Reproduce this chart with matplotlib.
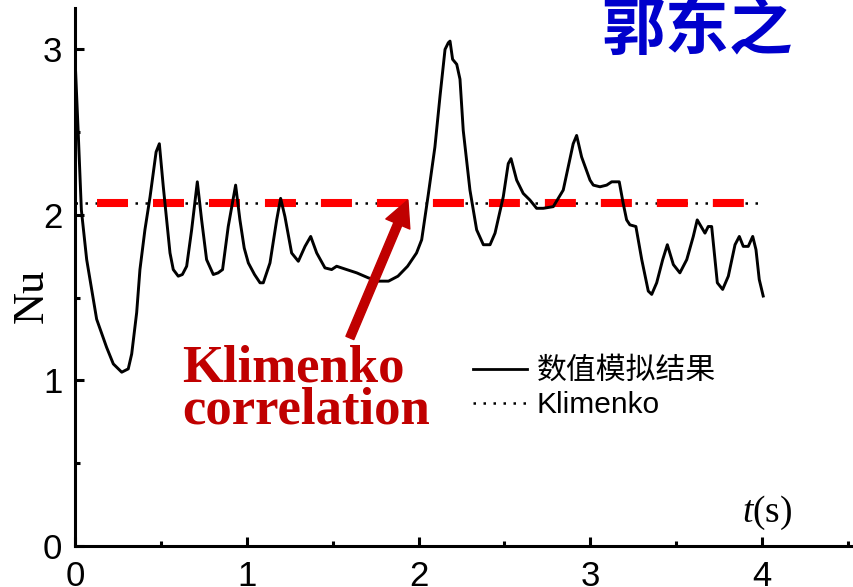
import matplotlib
matplotlib.use("Agg")
import matplotlib.pyplot as plt
from matplotlib.ticker import MultipleLocator
from matplotlib.lines import Line2D

plt.rcParams['mathtext.fontset'] = 'custom'
plt.rcParams['mathtext.rm'] = 'Liberation Serif'
plt.rcParams['mathtext.it'] = 'Liberation Serif:italic'

# ---- data ----
t = [0.0, 0.019, 0.037, 0.068, 0.126, 0.184, 0.223, 0.272, 0.31, 0.33, 0.359, 0.378,
     0.407, 0.437, 0.472, 0.491, 0.514, 0.553, 0.572, 0.601, 0.625, 0.65, 0.679, 0.712,
     0.737, 0.766, 0.805, 0.833, 0.859, 0.892, 0.935, 0.96, 0.985, 1.009, 1.045, 1.077,
     1.096, 1.135, 1.174, 1.197, 1.222, 1.261, 1.30, 1.339, 1.372, 1.407, 1.455, 1.494,
     1.523, 1.581, 1.64, 1.707, 1.765, 1.825, 1.88, 1.936, 1.988, 2.018, 2.056, 2.095,
     2.125, 2.154, 2.173, 2.183, 2.198, 2.222, 2.241, 2.26, 2.299, 2.338, 2.377, 2.416,
     2.445, 2.493, 2.522, 2.538, 2.571, 2.609, 2.648, 2.687, 2.726, 2.784, 2.842, 2.90,
     2.92, 2.949, 2.998, 3.017, 3.056, 3.095, 3.124, 3.143, 3.168, 3.191, 3.211, 3.23,
     3.265, 3.299, 3.337, 3.357, 3.386, 3.421, 3.448, 3.483, 3.521, 3.561, 3.599, 3.622,
     3.667, 3.686, 3.706, 3.739, 3.77, 3.803, 3.842, 3.867, 3.89, 3.919, 3.945, 3.964,
     3.983, 4.006]
nu = [2.95, 2.49, 2.03, 1.73, 1.37, 1.20, 1.10, 1.05, 1.07, 1.16, 1.41, 1.67,
      1.91, 2.11, 2.38, 2.43, 2.17, 1.77, 1.67, 1.63, 1.64, 1.69, 1.91, 2.20,
      1.97, 1.73, 1.64, 1.65, 1.67, 1.93, 2.18, 1.97, 1.80, 1.71, 1.64, 1.59,
      1.59, 1.71, 1.97, 2.10, 1.99, 1.77, 1.72, 1.81, 1.87, 1.77, 1.68, 1.67,
      1.69, 1.67, 1.65, 1.62, 1.60, 1.60, 1.63, 1.69, 1.77, 1.85, 2.12, 2.41,
      2.72, 3.00, 3.04, 3.05, 2.94, 2.91, 2.82, 2.51, 2.15, 1.91, 1.82, 1.82,
      1.89, 2.11, 2.31, 2.34, 2.21, 2.13, 2.09, 2.04, 2.04, 2.05, 2.15, 2.43,
      2.48, 2.35, 2.21, 2.18, 2.17, 2.18, 2.20, 2.20, 2.20, 2.07, 1.97, 1.94,
      1.93, 1.73, 1.54, 1.52, 1.59, 1.73, 1.82, 1.70, 1.65, 1.73, 1.87, 1.97,
      1.89, 1.93, 1.93, 1.59, 1.55, 1.63, 1.82, 1.87, 1.81, 1.81, 1.87, 1.79,
      1.61, 1.51]
klimenko_nu = 2.07
klimenko_t = [0.0, 3.975]
red_dash_t = [0.13, 3.90]
xticks = [0, 1, 2, 3, 4]
yticks = [0, 1, 2, 3]
arrow_tail = (1.60, 1.257)
arrow_head = (1.938, 2.09)

fig = plt.figure(figsize=(8.54, 5.87), dpi=100)
ax = fig.add_axes([75/854, 41/587, (851.5-75)/854, (546-8)/587])
ax.set_xlim(0, 4.52)
ax.set_ylim(0, 3.25)

ax.plot(klimenko_t, [klimenko_nu]*2, color='black', lw=1.8, dashes=(1, 3),
        label='Klimenko', zorder=2)
ax.plot(red_dash_t, [klimenko_nu]*2, color='#ff0000', lw=5.8, dashes=(3.85, 3.10),
        solid_capstyle='butt', dash_capstyle='butt', zorder=3)
ax.plot(t, nu, color='black', lw=2.1, label='数值模拟结果', zorder=4)

ax.annotate('', xy=arrow_head, xytext=arrow_tail,
            arrowprops=dict(arrowstyle='simple,head_length=0.52,head_width=0.52,tail_width=0.17',
                            mutation_scale=36, color='#c00000', shrinkA=0, shrinkB=0),
            zorder=5)

for s in ['top', 'right']:
    ax.spines[s].set_visible(False)
for s in ['left', 'bottom']:
    ax.spines[s].set_linewidth(2.2)

ax.set_xticks(xticks)
ax.set_yticks(yticks)
ax.xaxis.set_minor_locator(MultipleLocator(0.5))
ax.yaxis.set_minor_locator(MultipleLocator(0.5))
ax.tick_params(which='major', direction='in', length=6.5, width=2.2, labelsize=25)
ax.tick_params(which='minor', direction='in', length=3.6, width=2.2)
ax.tick_params(axis='y', pad=9)
ax.tick_params(axis='x', pad=10)
for lab in ax.get_xticklabels() + ax.get_yticklabels():
    lab.set_fontfamily('Liberation Sans')

fig.text(32/854, 1-296/587, 'Nu', rotation=90, ha='center', va='center',
         fontsize=32, family='Liberation Serif')
fig.text(767/854, 1-513/587, r'$t$(s)', ha='center', va='center',
         fontsize=27, family='Liberation Serif')

fig.text(182/854, 1-423/587, 'Klimenko\ncorrelation', ha='left', va='baseline',
         fontsize=38, family='Liberation Serif', weight='bold', color='#c00000',
         linespacing=0.83)

fig.text(697/854, 1-30/587, '郭东之', ha='center', va='center', fontsize=46,
         family=['Noto Sans CJK SC'], weight='bold', color='#0000cc')

handles = [Line2D([], [], color='black', lw=2.0),
           Line2D([], [], color='black', lw=1.8, dashes=(1, 3))]
leg = ax.legend(handles, ['数值模拟结果', 'Klimenko'], loc='upper left',
                bbox_to_anchor=(473/854, 1-357/587), bbox_transform=fig.transFigure,
                frameon=False, borderpad=0, borderaxespad=0, handlelength=1.8,
                handletextpad=0.33, labelspacing=0.2,
                prop={'family': ['Liberation Sans', 'Noto Sans CJK SC'], 'size': 21.5})

fig.savefig('out.png', dpi=100)
